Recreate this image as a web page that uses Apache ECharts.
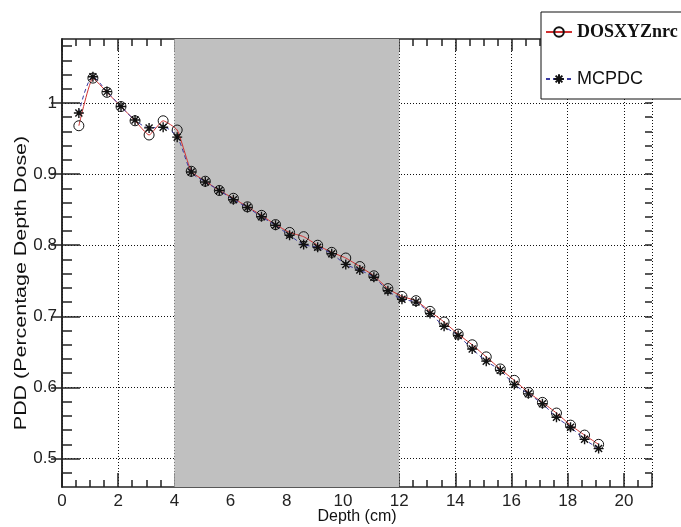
<!DOCTYPE html>
<html>
<head>
<meta charset="utf-8">
<script src="https://cdn.jsdelivr.net/npm/echarts@6/dist/echarts.min.js"></script>
<style>
  html, body { margin: 0; padding: 0; background: #fff; }
  #main { width: 681px; height: 527px; }
</style>
</head>
<body>
<div id="main"></div>
<script>
// depth of each scored voxel (cm)
var depth = [0.6, 1.1, 1.6, 2.1, 2.6, 3.1, 3.6, 4.1, 4.6, 5.1,
             5.6, 6.1, 6.6, 7.1, 7.6, 8.1, 8.6, 9.1, 9.6, 10.1,
             10.6, 11.1, 11.6, 12.1, 12.6, 13.1, 13.6, 14.1, 14.6, 15.1,
             15.6, 16.1, 16.6, 17.1, 17.6, 18.1, 18.6, 19.1];
var dosxyz = [0.968, 1.035, 1.015, 0.995, 0.975, 0.955, 0.975, 0.962, 0.904, 0.890,
              0.877, 0.866, 0.854, 0.842, 0.829, 0.818, 0.812, 0.800, 0.790, 0.782,
              0.770, 0.757, 0.739, 0.728, 0.722, 0.707, 0.692, 0.675, 0.660, 0.643,
              0.626, 0.610, 0.593, 0.579, 0.564, 0.547, 0.533, 0.520];
var mcpdc = [0.986, 1.037, 1.016, 0.995, 0.976, 0.965, 0.966, 0.952, 0.903, 0.889,
             0.877, 0.864, 0.853, 0.840, 0.828, 0.814, 0.801, 0.797, 0.788, 0.773,
             0.765, 0.755, 0.736, 0.724, 0.720, 0.704, 0.686, 0.673, 0.654, 0.637,
             0.624, 0.604, 0.591, 0.577, 0.558, 0.544, 0.527, 0.514];
var shadedRange = [4, 12]; // inhomogeneity slab
var seriesNames = ['DOSXYZnrc', 'MCPDC'];
var yTicks = [0.5, 0.6, 0.7, 0.8, 0.9, 1.0];

// minor ticks every 0.02 between the axis ends
var yMinor = [];
for (var k = 24; k <= 54; k++) yMinor.push(Math.round(k * 2) / 100);

var chartDom = document.getElementById('main');
var myChart = echarts.init(chartDom);
var option;

var FONT = '"Liberation Sans", Arial, sans-serif';
var asterisk = 'path://M5,0L5,10M0,5L10,5M1.5,1.5L8.5,8.5M1.5,8.5L8.5,1.5';

function pairs(ys) {
    return depth.map(function (d, i) { return [d, ys[i]]; });
}

var xBase = { type: 'value', min: 0, max: 21, interval: 2 };
var yBase = { type: 'value', min: 0.46, max: 1.09 };
var frameLine = { show: true, lineStyle: { color: '#222', width: 1.5 } };
var tickStyle = { color: '#222', width: 1.5 };
var dotted = { color: '#111', type: [1, 2], width: 1 };

option = {
    animation: false,
    grid: { left: 62, right: 29, top: 39, bottom: 40, containLabel: false, outerBoundsMode: 'none' },
    xAxis: [
        Object.assign({}, xBase, {
            position: 'bottom',
            name: 'Depth (cm)',
            nameLocation: 'middle',
            nameGap: 22,
            nameMoveOverlap: false,
            nameTextStyle: { fontFamily: FONT, fontSize: 16, color: '#111' },
            axisLine: frameLine,
            axisTick: { show: true, inside: true, length: 14, lineStyle: tickStyle },
            minorTick: { show: true, splitNumber: 4, length: 7, lineStyle: tickStyle },
            axisLabel: {
                fontFamily: FONT, fontSize: 17, color: '#222', margin: 6,
                formatter: function (v) { return v % 2 === 0 ? String(v) : ''; }
            },
            splitLine: { show: true, lineStyle: dotted }
        }),
        Object.assign({}, xBase, {
            position: 'top',
            axisLine: frameLine,
            axisTick: { show: true, inside: true, length: 12, lineStyle: tickStyle },
            minorTick: { show: true, splitNumber: 4, length: 7, lineStyle: tickStyle },
            axisLabel: { show: false },
            splitLine: { show: false }
        })
    ],
    yAxis: [
        Object.assign({}, yBase, {
            position: 'left',
            axisLine: frameLine,
            axisTick: { show: true, inside: true, length: 18, customValues: yTicks, lineStyle: tickStyle },
            axisLabel: {
                fontFamily: FONT, fontSize: 17, color: '#222', margin: 5,
                customValues: yTicks,
                formatter: function (v) { return String(Math.round(v * 10) / 10); }
            },
            splitLine: { show: true, lineStyle: dotted }
        }),
        Object.assign({}, yBase, {
            position: 'right',
            axisLine: frameLine,
            axisTick: { show: true, inside: true, length: 11, customValues: yTicks, lineStyle: tickStyle },
            axisLabel: { show: false },
            splitLine: { show: false }
        }),
        Object.assign({}, yBase, {
            position: 'left',
            axisLine: { show: false },
            axisTick: { show: true, inside: true, length: 10, customValues: yMinor, lineStyle: tickStyle },
            axisLabel: { show: false },
            splitLine: { show: false }
        }),
        Object.assign({}, yBase, {
            position: 'right',
            axisLine: { show: false },
            axisTick: { show: true, inside: true, length: 7, customValues: yMinor, lineStyle: tickStyle },
            axisLabel: { show: false },
            splitLine: { show: false }
        })
    ],
    legend: {
        orient: 'vertical',
        left: 541,
        top: 12,
        padding: [11, 30, 11, 4],
        itemGap: 29,
        itemWidth: 26,
        itemHeight: 12,
        backgroundColor: '#fff',
        borderColor: '#111',
        borderWidth: 1,
        data: [
            { name: seriesNames[0], textStyle: { fontFamily: '"Liberation Serif", "Times New Roman", serif', fontWeight: 'bold', fontSize: 18, color: '#111' } },
            { name: seriesNames[1], textStyle: { fontFamily: FONT, fontSize: 18, color: '#111' } }
        ]
    },
    graphic: [
        {
            type: 'text',
            x: 22,
            y: 283,
            rotation: Math.PI / 2,
            scaleX: 1.34,
            style: {
                text: 'PDD (Percentage Depth Dose)',
                font: '16px "Liberation Sans", Arial, sans-serif',
                fill: '#111',
                align: 'center',
                verticalAlign: 'middle'
            }
        }
    ],
    series: [
        {
            // gray slab, kept under the dotted grid
            name: 'slab',
            type: 'line',
            data: [],
            z: -1,
            silent: true,
            markArea: {
                silent: true,
                itemStyle: { color: '#c0c0c0', opacity: 1 },
                data: [[{ xAxis: shadedRange[0] }, { xAxis: shadedRange[1] }]]
            }
        },
        {
            name: seriesNames[0],
            type: 'line',
            data: pairs(dosxyz),
            smooth: 0.15,
            symbol: 'circle',
            symbolSize: 10,
            showAllSymbol: true,
            lineStyle: { color: '#d03030', width: 1 },
            itemStyle: { color: 'transparent', borderColor: '#111', borderWidth: 1 },
            z: 3
        },
        {
            name: seriesNames[1],
            type: 'line',
            data: pairs(mcpdc),
            smooth: 0.3,
            symbol: asterisk,
            symbolSize: 10,
            showAllSymbol: true,
            lineStyle: { color: '#3a3aa0', width: 1, type: [4, 3] },
            itemStyle: { color: '#111', borderColor: '#111', borderWidth: 1.4 },
            z: 4
        }
    ]
};

option && myChart.setOption(option);
window.onresize = function () {
    myChart.resize();
};
</script>
</body>
</html>
